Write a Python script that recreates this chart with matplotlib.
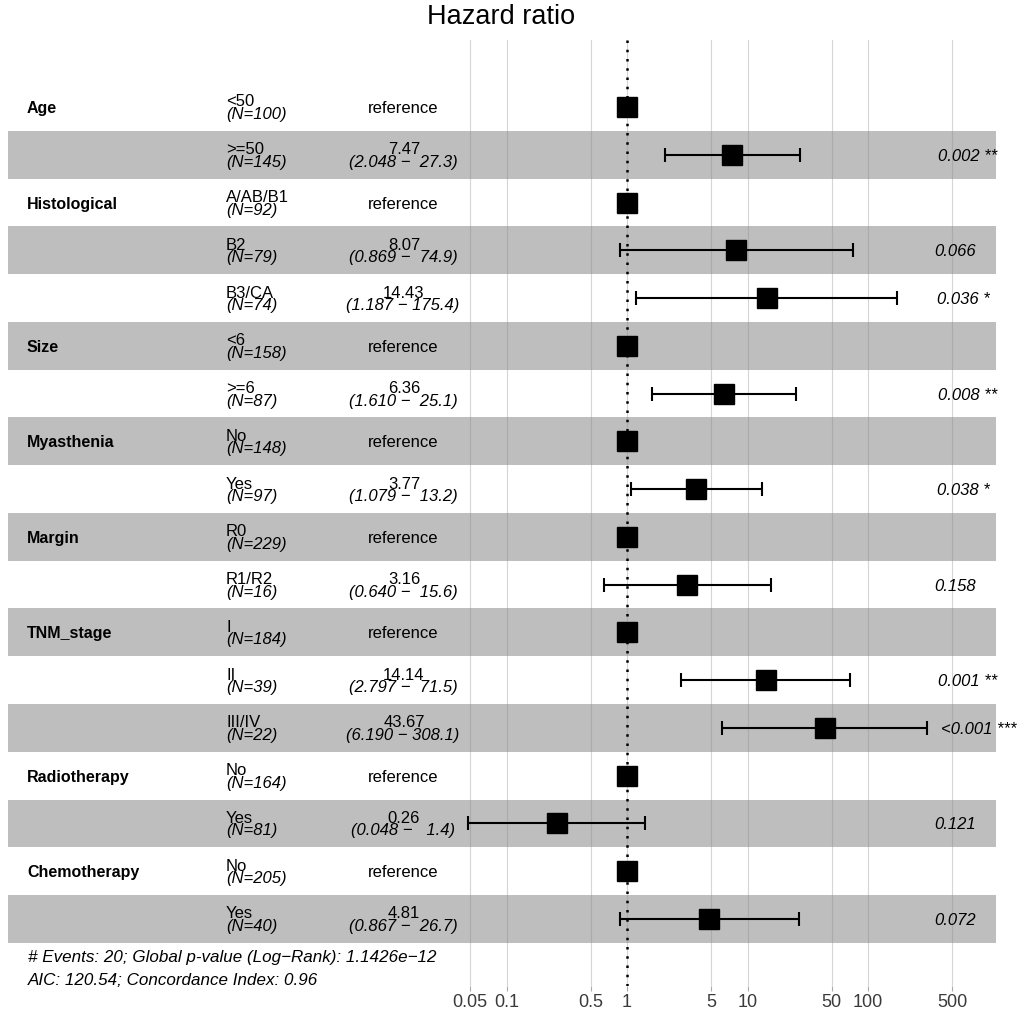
import matplotlib
matplotlib.use('Agg')
import matplotlib.pyplot as plt
import numpy as np
from matplotlib.ticker import NullLocator

plt.rcParams['font.family'] = ['Liberation Sans', 'DejaVu Sans']

# ---------------- data ----------------
variables = ['Age', '', 'Histological', '', '', 'Size', '', 'Myasthenia', '',
             'Margin', '', 'TNM_stage', '', '', 'Radiotherapy', '', 'Chemotherapy', '']
levels = ['<50', '>=50', 'A/AB/B1', 'B2', 'B3/CA', '<6', '>=6', 'No', 'Yes',
          'R0', 'R1/R2', 'I', 'II', 'III/IV', 'No', 'Yes', 'No', 'Yes']
n_counts = [100, 145, 92, 79, 74, 158, 87, 148, 97, 229, 16, 184, 39, 22, 164, 81, 205, 40]
nan = np.nan
hr = [nan, 7.47, nan, 8.07, 14.43, nan, 6.36, nan, 3.77, nan, 3.16, nan, 14.14, 43.67,
      nan, 0.26, nan, 4.81]
ci_low = [nan, 2.048, nan, 0.869, 1.187, nan, 1.610, nan, 1.079, nan, 0.640, nan, 2.797,
          6.190, nan, 0.048, nan, 0.867]
ci_high = [nan, 27.3, nan, 74.9, 175.4, nan, 25.1, nan, 13.2, nan, 15.6, nan, 71.5,
           308.1, nan, 1.4, nan, 26.7]
p_labels = ['', '0.002 **', '', '0.066', '0.036 *', '', '0.008 **', '', '0.038 *', '',
            '0.158', '', '0.001 **', '<0.001 ***', '', '0.121', '', '0.072']
x_ticks = [0.05, 0.1, 0.5, 1, 5, 10, 50, 100, 500]
x_tick_labels = ['0.05', '0.1', '0.5', '1', '5', '10', '50', '100', '500']
footer = ['# Events: 20; Global p-value (Log\u2212Rank): 1.1426e\u221212',
          'AIC: 120.54; Concordance Index: 0.96']

# ---------------- layout ----------------
W, H = 1026, 1015
fig = plt.figure(figsize=(W / 100, H / 100), dpi=100)
top_px, bot_px = 40, 986
ax = fig.add_axes([0, 1 - bot_px / H, 1, (bot_px - top_px) / H])

row0_px, pitch = 107.0, 47.76
px_per_dec, one_px = 120.5, 627.0
ax.set_xscale('log')
ax.set_xlim(10 ** (-one_px / px_per_dec), 10 ** ((W - one_px) / px_per_dec))
ax.set_ylim((bot_px - row0_px) / pitch, (top_px - row0_px) / pitch)

nrows = len(levels)
ys = np.arange(nrows)

# bands
for i in ys:
    if i % 2 == 1:
        ax.axhspan(i - 0.5, i + 0.5, xmin=8 / W, xmax=996 / W, color='#BEBEBE',
                   lw=0, zorder=0.1)

ax.set_axisbelow(True)
ax.set_xticks(x_ticks)
ax.set_xticklabels(x_tick_labels)
ax.xaxis.set_minor_locator(NullLocator())
ax.set_yticks([])
ax.grid(axis='x', color='#888888', alpha=0.35, lw=0.8)
for s in ax.spines.values():
    s.set_visible(False)
ax.tick_params(axis='x', length=3.6, width=0.8, color='#AAAAAA', labelsize=13,
               pad=2.5, labelcolor='#3A3A3A')

# reference line
ax.axvline(1, color='black', lw=1.8, ls=(0, (1, 2.7)), zorder=1)

hr_a = np.array(hr)
lo_a = np.array(ci_low)
hi_a = np.array(ci_high)
has = ~np.isnan(hr_a)
ax.errorbar(hr_a[has], ys[has], xerr=[hr_a[has] - lo_a[has], hi_a[has] - hr_a[has]],
            fmt='none', ecolor='black', elinewidth=1.5, capsize=5, capthick=1.5, zorder=3)
pt_x = np.where(has, hr_a, 1.0)
ax.plot(pt_x, ys, 's', ms=14, color='black', zorder=4, ls='none')

# text columns
tr = ax.get_yaxis_transform()  # x axes-fraction, y data
off1 = -0.5 / pitch
off2 = 12.0 / pitch
off_single = 6.0 / pitch
fs = 12
for i in ys:
    if variables[i]:
        ax.text(27 / W, i + off_single, variables[i], transform=tr, ha='left',
                va='baseline', fontsize=11.5, fontweight='bold')
    ax.text(226 / W, i + off1, levels[i], transform=tr, ha='left', va='baseline', fontsize=fs)
    ax.text(226 / W, i + off2, '(N=%d)' % n_counts[i], transform=tr, ha='left',
            va='baseline', fontsize=fs, style='italic')
    if has[i]:
        ax.text(404 / W, i + off1, '%.2f' % hr_a[i], transform=tr, ha='center',
                va='baseline', fontsize=fs)
        ax.text(403 / W, i + off2, '(%.3f \u2212 %5.1f)' % (lo_a[i], hi_a[i]),
                transform=tr, ha='center', va='baseline', fontsize=fs, style='italic')
    else:
        ax.text(403 / W, i + off_single, 'reference', transform=tr, ha='center',
                va='baseline', fontsize=fs)

fig.canvas.draw()
renderer = fig.canvas.get_renderer()
for i in ys:
    if p_labels[i]:
        t = ax.text(926 / W, i + off_single, p_labels[i], transform=tr, ha='left',
                    va='baseline', fontsize=fs, style='italic')
        w = t.get_window_extent(renderer).width
        t.set_x((926 + 0.2 * w) / W)

fig.text(501.5 / W, 1 - 24 / H, 'Hazard ratio', ha='center', va='baseline', fontsize=19.5)
fig.text(28 / W, 1 - 961.7 / H, footer[0], ha='left', va='baseline', fontsize=12.25,
         style='italic')
fig.text(28 / W, 1 - 985 / H, footer[1], ha='left', va='baseline', fontsize=12.25,
         style='italic')

fig.savefig('out.png', dpi=100)
